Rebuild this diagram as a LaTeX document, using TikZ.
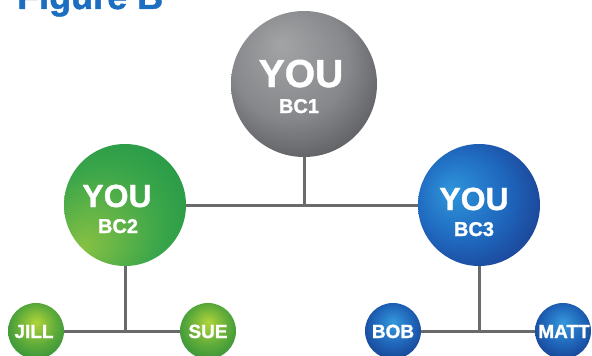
\documentclass[tikz,border=0pt]{standalone}
\usepackage{fontspec}
\setmainfont{Liberation Sans}
\newfontfamily\heavy[FakeBold=1.2]{Liberation Sans Bold}
\definecolor{grA}{HTML}{A3A4A6}
\definecolor{grB}{HTML}{87888B}
\definecolor{grC}{HTML}{525356}
\definecolor{gnA}{HTML}{88C143}
\definecolor{gnB}{HTML}{3BA64A}
\definecolor{gnC}{HTML}{1B9246}
\definecolor{blA}{HTML}{2F95DA}
\definecolor{blB}{HTML}{1F6AC0}
\definecolor{blC}{HTML}{1A388A}
\definecolor{sgA}{HTML}{B0D43A}
\definecolor{sgB}{HTML}{5EAB3A}
\definecolor{sgC}{HTML}{2E8F3A}
\definecolor{sbA}{HTML}{3499DC}
\definecolor{sbB}{HTML}{1F64B8}
\definecolor{sbC}{HTML}{163E8E}
\definecolor{titleblue}{HTML}{1B6EC0}
\definecolor{linegray}{HTML}{6A6A6D}
\pgfdeclareradialshading{grayball}{\pgfpoint{-8bp}{14bp}}{color(0bp)=(grA); color(20bp)=(grB); color(36bp)=(grC); color(50bp)=(grC)}
\pgfdeclareradialshading{greenball}{\pgfpoint{-18bp}{-18bp}}{color(0bp)=(gnA); color(24bp)=(gnB); color(42bp)=(gnC); color(50bp)=(gnC)}
\pgfdeclareradialshading{blueball}{\pgfpoint{-12bp}{6bp}}{color(0bp)=(blA); color(18bp)=(blB); color(36bp)=(blC); color(50bp)=(blC)}
\pgfdeclareradialshading{sgreenball}{\pgfpoint{0bp}{8bp}}{color(0bp)=(sgA); color(18bp)=(sgB); color(32bp)=(sgC); color(50bp)=(sgC)}
\pgfdeclareradialshading{sblueball}{\pgfpoint{0bp}{8bp}}{color(0bp)=(sbA); color(18bp)=(sbB); color(32bp)=(sbC); color(50bp)=(sbC)}
\tikzset{
  ball/.style={circle, inner sep=0pt, outer sep=0pt},
  bigball/.style={ball, minimum size=122pt},
  smallball/.style={ball, minimum size=56pt},
  bigtxt/.style={text=white, inner sep=0pt, font=\heavy\fontsize{32}{32}\selectfont},
  subtxt/.style={text=white, inner sep=0pt, font=\heavy\fontsize{20}{20}\selectfont},
  smalltxt/.style={text=white, inner sep=0pt, font=\heavy\fontsize{19}{19}\selectfont},
  conn/.style={draw=linegray, line width=3pt}
}
\begin{document}
\begin{tikzpicture}[x=1pt, y=-1pt]
\useasboundingbox (0,0) rectangle (592,356);
% title
\node[anchor=base west, inner sep=0pt, text=titleblue, font=\heavy\fontsize{36}{36}\selectfont] (title) at (17,9) {Figure B};
% circles
\node[ball, minimum size=146pt, shading=grayball] (bc1) at (304,84) {};
\node[bigball, shading=greenball] (bc2) at (125,205) {};
\node[bigball, shading=blueball] (bc3) at (479,205) {};
\node[smallball, shading=sgreenball] (jill) at (36,331) {};
\node[smallball, shading=sgreenball] (sue) at (208,331) {};
\node[smallball, shading=sblueball] (bob) at (393,331) {};
\node[smallball, shading=sblueball] (matt) at (563,331) {};
% connectors
\draw[conn] (bc1) -- (bc1 |- bc2);
\draw[conn] (bc2) -- (bc3);
\draw[conn] (bc2) -- (bc2 |- jill);
\draw[conn] (jill) -- (sue);
\draw[conn] (bc3) -- (bc3 |- bob);
\draw[conn] (bob) -- (matt);
% texts
\node[bigtxt, anchor=base, font=\heavy\fontsize{39}{39}\selectfont] (t1) at (301,87) {YOU};
\node[subtxt, anchor=base] (s1) at (299,113) {BC1};
\node[bigtxt, anchor=base] (t2) at (117,207) {YOU};
\node[subtxt, anchor=base] (s2) at (118,233) {BC2};
\node[bigtxt, anchor=base] (t3) at (474,210) {YOU};
\node[subtxt, anchor=base] (s3) at (474,236) {BC3};
\node[smalltxt, anchor=base] (n1) at (34,338) {JILL};
\node[smalltxt, anchor=base] (n2) at (208,338) {SUE};
\node[smalltxt, anchor=base] (n3) at (393,338) {BOB};
\node[smalltxt, anchor=base] (n4) at (564,338) {MATT};
\end{tikzpicture}
\end{document}
